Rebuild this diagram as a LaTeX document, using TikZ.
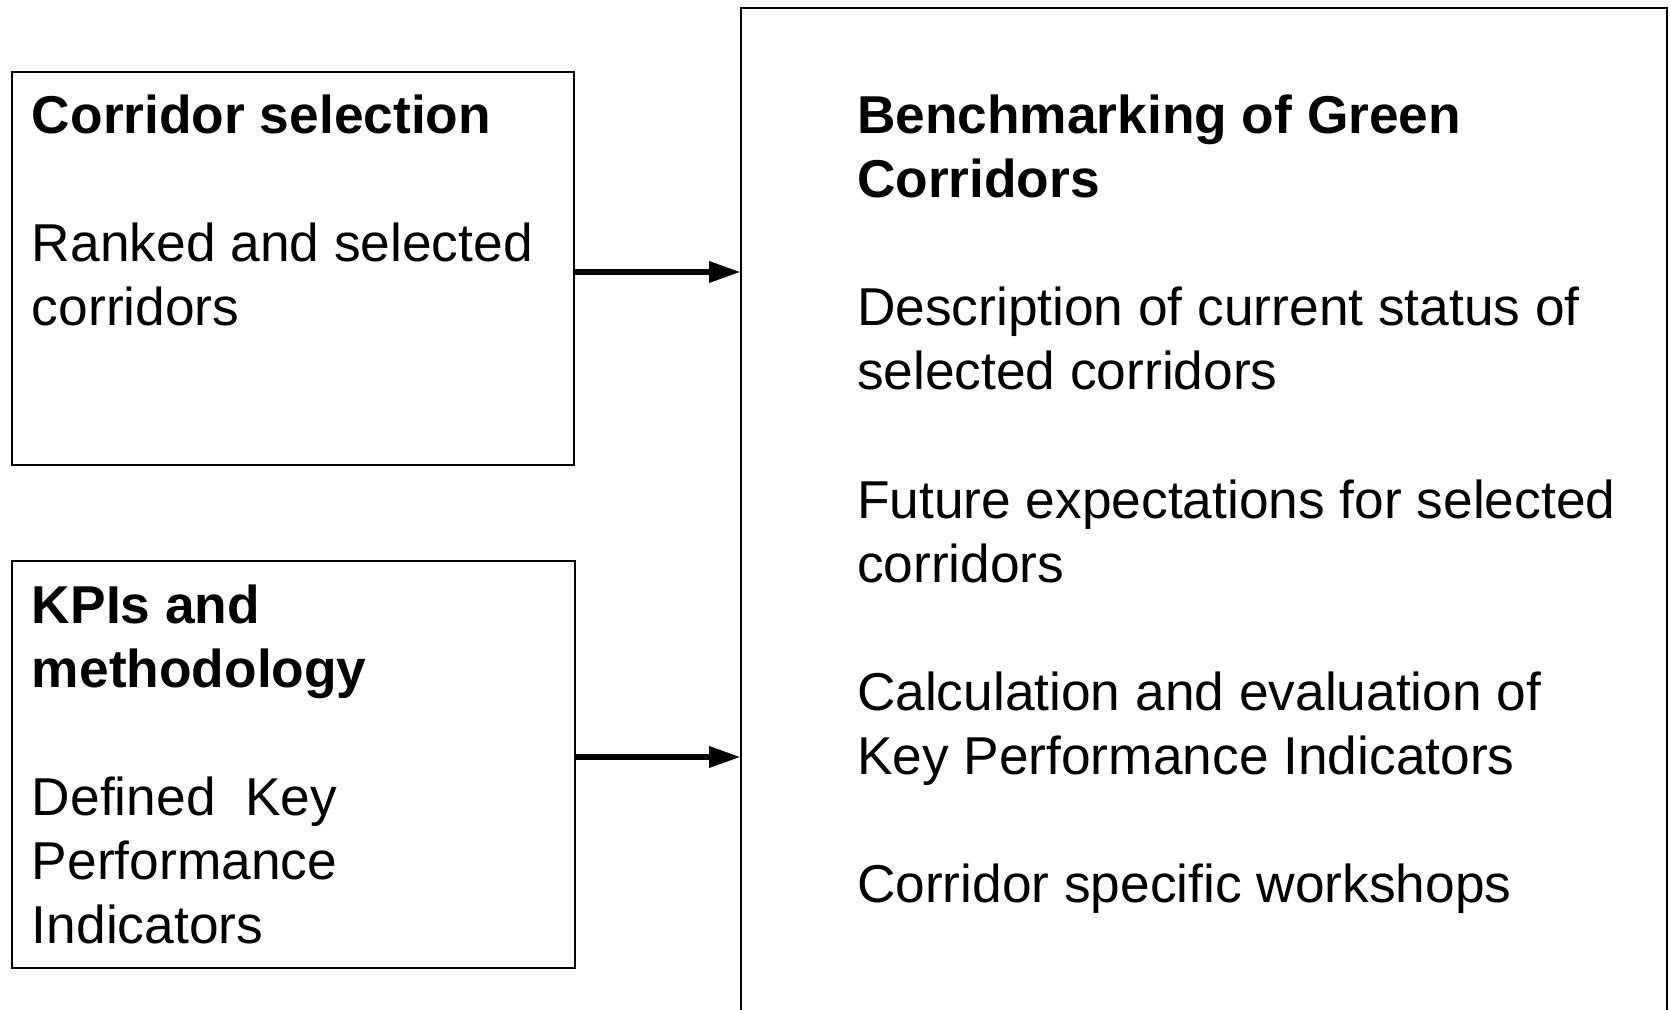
\documentclass[tikz,border=0pt]{standalone}
\usepackage{fontspec}
\setmainfont{Liberation Sans}
\usetikzlibrary{arrows.meta}
\begin{document}
\begin{tikzpicture}[x=0.5pt,y=-0.5pt,
  box/.style={draw=black,line width=1pt,rectangle,inner sep=0pt,outer sep=0pt,anchor=north west},
  txt/.style={anchor=base west,inner sep=0pt,outer sep=0pt,font=\fontsize{26.65pt}{32pt}\selectfont},
  hd/.style={txt,font=\fontsize{26.65pt}{32pt}\selectfont\bfseries},
  arr/.style={line width=3.3pt,-{Triangle[length=16pt,width=10pt]}}]
\clip (0,0) rectangle (1670,1010);
\fill[white] (0,0) rectangle (1670,1010);
% boxes
\node[box,minimum width=281.25pt,minimum height=196.5pt] (b1) at (11.5,72) {};
\node[box,minimum width=281.75pt,minimum height=203.5pt] (b2) at (11.5,561) {};
\node[box,minimum width=463pt,minimum height=520pt] (big) at (741,8) {};
% arrows
\draw[arr] ([yshift=-1.75pt]b1.east) -- ([yshift=-1.75pt]b1.east -| big.west);
\draw[arr] ([yshift=3.75pt]b2.east) -- ([yshift=3.75pt]b2.east -| big.west);
% left box 1 text
\node[hd] (t1) at (32,134) {Corridor selection};
\node[txt] (t2) at (32,262) {Ranked and selected};
\node[txt] (t3) at (32,326) {corridors};
% left box 2 text
\node[hd] (t4) at (32,623) {KPIs and};
\node[hd] (t5) at (32,687) {methodology};
\node[txt] (t6) at (32,815) {Defined\ \ Key};
\node[txt] (t7) at (32,879) {Performance};
\node[txt] (t8) at (32,943) {Indicators};
% right box text
\node[hd] (r1) at (857,134) {Benchmarking of Green};
\node[hd] (r2) at (857,198) {Corridors};
\node[txt] (r3) at (857,326) {Description of current status of};
\node[txt] (r4) at (857,390) {selected corridors};
\node[txt] (r5) at (857,518) {Future expectations for selected};
\node[txt] (r6) at (857,582) {corridors};
\node[txt] (r7) at (857,710) {Calculation and evaluation of};
\node[txt] (r8) at (857,774) {Key Performance Indicators};
\node[txt] (r9) at (857,902) {Corridor specific workshops};
\end{tikzpicture}
\end{document}
